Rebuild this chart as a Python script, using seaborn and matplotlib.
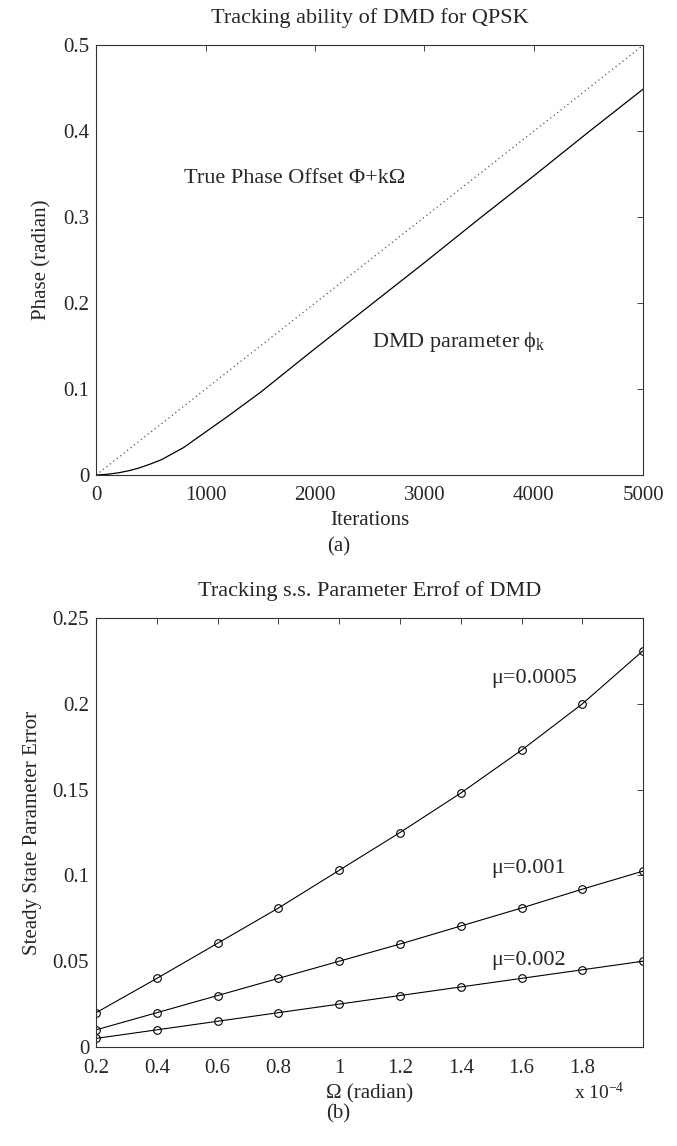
import numpy as np
import pandas as pd
import matplotlib
matplotlib.use("Agg")
import matplotlib.pyplot as plt
import seaborn as sns

# (a) tracking curve
iterations = [0, 100, 200, 300, 400, 500, 600, 800, 1000, 1200, 1500,
              2000, 2500, 3000, 3500, 4000, 4500, 5000]
dmd_phase = [0.0, 0.0008, 0.0025, 0.005, 0.0085, 0.013, 0.018, 0.032, 0.050,
             0.068, 0.096, 0.147, 0.197, 0.247, 0.298, 0.348, 0.399, 0.449]
true_k = [0, 5000]
true_phase = [0.0, 0.5]

# (b) steady-state error vs Omega (x 1e-4)
omega = [0.2, 0.4, 0.6, 0.8, 1.0, 1.2, 1.4, 1.6, 1.8, 2.0]
err_mu_0005 = [0.020, 0.040, 0.0605, 0.081, 0.103, 0.125, 0.148, 0.173, 0.200, 0.231]
err_mu_001 = [0.010, 0.020, 0.030, 0.040, 0.050, 0.060, 0.0705, 0.081, 0.092, 0.1025]
err_mu_002 = [0.005, 0.010, 0.015, 0.020, 0.025, 0.030, 0.035, 0.040, 0.045, 0.050]

sns.set_style("white")
plt.rcParams['font.family'] = ['Liberation Serif', 'DejaVu Serif']
plt.rcParams['mathtext.fontset'] = 'custom'
plt.rcParams['mathtext.rm'] = 'Liberation Serif'
plt.rcParams['mathtext.default'] = 'regular'
plt.rcParams['xtick.direction'] = 'in'
plt.rcParams['ytick.direction'] = 'in'
plt.rcParams['axes.edgecolor'] = '#333333'
plt.rcParams['axes.linewidth'] = 0.8
plt.rcParams['xtick.major.size'] = 4
plt.rcParams['ytick.major.size'] = 4
plt.rcParams['xtick.major.width'] = 0.6
plt.rcParams['ytick.major.width'] = 0.6

FS = 15      # ticks and axis labels
FS_T = 16    # titles and annotations

fig = plt.figure(figsize=(6.77, 11.46), dpi=100)
ax1 = fig.add_axes([0.142, 0.5855, 0.808, 0.375])
ax2 = fig.add_axes([0.142, 0.0864, 0.808, 0.3743])

# ---- panel (a)
df_a = pd.DataFrame({'k': iterations, 'phi': dmd_phase})
df_t = pd.DataFrame({'k': true_k, 'phi': true_phase})
sns.lineplot(data=df_t, x='k', y='phi', ax=ax1, color='#555555', lw=0.9,
             linestyle=(0, (1, 2.5)))
sns.lineplot(data=df_a, x='k', y='phi', ax=ax1, color='black', lw=0.9)
ax1.set_xlim(0, 5000)
ax1.set_ylim(0, 0.5)
ax1.set_xticks([0, 1000, 2000, 3000, 4000, 5000])
ax1.set_yticks([0, 0.1, 0.2, 0.3, 0.4, 0.5])
ax1.set_yticklabels(['0', '0.1', '0.2', '0.3', '0.4', '0.5'])
ax1.tick_params(labelsize=FS, top=True, right=True, pad=5)
ax1.tick_params(axis='x', pad=8)
ax1.set_xlabel('Iterations', fontsize=FS, labelpad=4)
ax1.set_ylabel('Phase (radian)', fontsize=FS, labelpad=8)
ax1.set_title('Tracking ability of DMD for QPSK', fontsize=FS_T, pad=16)
ax1.text(800, 0.345, 'True Phase Offset \u03a6+k\u03a9', fontsize=FS_T, va='center')
ax1.text(2520, 0.155, 'DMD parameter \u03d5$_{k}$', fontsize=FS_T, va='center')

# ---- panel (b)
for vals in [err_mu_0005, err_mu_001, err_mu_002]:
    d = pd.DataFrame({'omega': omega, 'err': vals})
    sns.lineplot(data=d, x='omega', y='err', ax=ax2, color='black', lw=0.8,
                 marker='o', markersize=5.5, markerfacecolor='none',
                 markeredgecolor='black', markeredgewidth=0.8)
ax2.set_xlim(0.2, 2.0)
ax2.set_ylim(0, 0.25)
ax2.set_xticks([0.2, 0.4, 0.6, 0.8, 1.0, 1.2, 1.4, 1.6, 1.8])
ax2.set_xticklabels(['0.2', '0.4', '0.6', '0.8', '1', '1.2', '1.4', '1.6', '1.8'])
ax2.set_yticks([0, 0.05, 0.1, 0.15, 0.2, 0.25])
ax2.set_yticklabels(['0', '0.05', '0.1', '0.15', '0.2', '0.25'])
ax2.tick_params(labelsize=FS, top=True, right=True, pad=5)
ax2.tick_params(axis='x', pad=9)
ax2.set_xlabel('\u03a9 (radian)', fontsize=FS, labelpad=4)
ax2.set_ylabel('Steady State Parameter Error', fontsize=FS, labelpad=8)
ax2.set_title('Tracking s.s. Parameter Errof of DMD', fontsize=FS_T, pad=16)
ax2.text(1.5, 0.215, '\u03bc=0.0005', fontsize=FS_T, va='center')
ax2.text(1.5, 0.104, '\u03bc=0.001', fontsize=FS_T, va='center')
ax2.text(1.5, 0.0506, '\u03bc=0.002', fontsize=FS_T, va='center')
ax2.text(0.967, -0.107, 'x 10$^{-4}$', transform=ax2.transAxes,
         fontsize=14, ha='right', va='center')

fig.text(0.5, 1 - 547 / 1146, '(a)', fontsize=FS, ha='center', va='center')
fig.text(0.5, 1 - 1114 / 1146, '(b)', fontsize=FS, ha='center', va='center')

fig.savefig('out.png', dpi=100)
